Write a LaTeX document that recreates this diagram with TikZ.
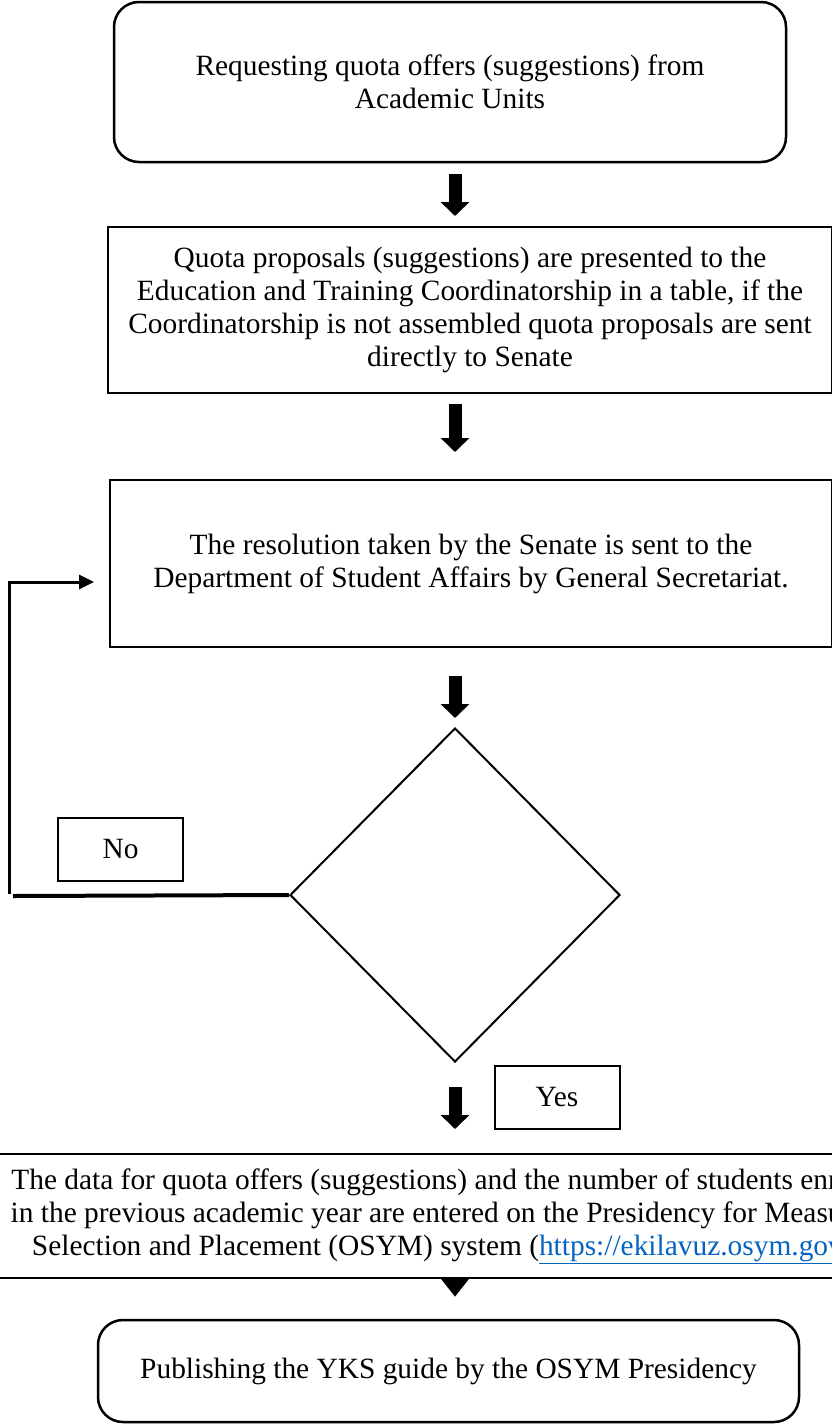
\documentclass[tikz,border=0pt]{standalone}
\usepackage{fontspec}
\setmainfont{Liberation Serif}
\usetikzlibrary{arrows.meta,shapes.geometric}
\definecolor{linkblue}{RGB}{5,99,193}

\begin{document}
\begin{tikzpicture}[x=1pt,y=-1pt,
	font=\fontsize{29.4}{33}\selectfont,
	box/.style={draw,line width=2pt,align=center,inner sep=0pt},
	rbox/.style={box,rounded corners=25pt,line width=2.5pt},
	tag/.style={box,minimum width=125pt,minimum height=63pt},
	bigarrow/.style={line width=13pt,-{Triangle[width=28pt,length=14pt]}}]
	\useasboundingbox (0,0) rectangle (831,1424);

	\node[rbox,minimum width=672pt,minimum height=160pt] (req) at (450,82)
		{Requesting quota offers (suggestions) from\\Academic Units};
	\node[box,minimum width=724pt,minimum height=166pt] (prop) at (470,310)
		{Quota proposals (suggestions) are presented to the\\
		Education and Training Coordinatorship in a table, if the\\
		Coordinatorship is not assembled quota proposals are sent\\
		directly to Senate};
	\node[box,minimum width=722pt,minimum height=167pt] (res) at (471,563.5)
		{The resolution taken by the Senate is sent to the\\
		Department of Student Affairs by General Secretariat.};
	\node[draw,diamond,line width=2pt,inner sep=0pt,minimum width=330pt,minimum height=334pt] (dec) at (455,895) {};
	\node[tag] (no) at (120.5,849) {No};
	\node[tag] (yes) at (557,1097) {Yes};
	\node[box,minimum width=1000pt,minimum height=124pt] (data) at (454,1216)
		{The data for quota offers (suggestions) and the number of students enrolled\\
		in the previous academic year are entered on the Presidency for Measuring,\\
		Selection and Placement (OSYM) system ({\color{linkblue}\underline{https://ekilavuz.osym.gov.tr}})};
	\node[rbox,minimum width=701pt,minimum height=102pt] (pub) at (448.5,1371)
		{Publishing the YKS guide by the OSYM Presidency};

	% thick arrows down the chart
	\draw[bigarrow,shorten <=11pt,shorten >=10pt] (req.south -| dec.north) -- (prop.north -| dec.north);
	\draw[bigarrow,shorten <=10pt,shorten >=27pt] (prop.south -| dec.north) -- (res.north -| dec.north);
	\draw[bigarrow,shorten <=28pt,shorten >=9pt] (res.south -| dec.north) -- (dec.north);
	\draw[bigarrow,shorten <=24pt,shorten >=24pt] (dec.south) -- (data.north -| dec.south);
	\draw[line width=13pt,-{Triangle[width=27pt,length=18pt]},shorten <=2pt,shorten >=22pt] (data.south -| dec.south) -- (pub.north -| dec.south);

	% the No branch back to the Senate box
	\coordinate (turn) at (9,896);
	\draw[line width=4pt] (dec.west) -- ([xshift=4pt]turn);
	\draw[line width=3pt,-{Triangle[width=14pt,length=15pt]},shorten >=15pt] ([yshift=2pt]turn) |- ([yshift=-18.5pt]res.west);
\end{tikzpicture}
\end{document}
